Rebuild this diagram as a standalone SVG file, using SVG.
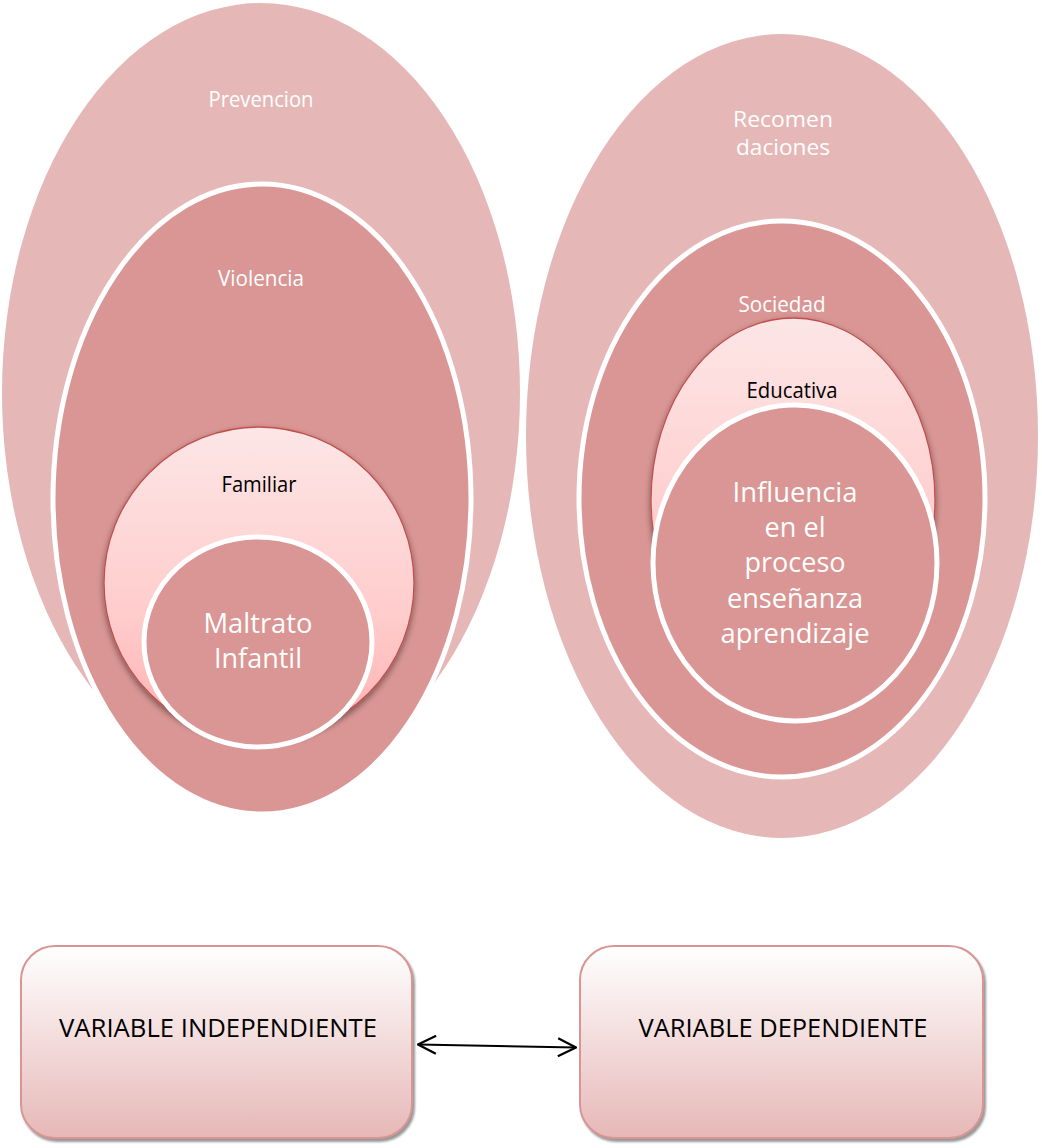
<svg xmlns="http://www.w3.org/2000/svg" width="1042" height="1148" viewBox="0 0 1042 1148">
<style>
.outer{fill:#e5b8b7}
.mid{fill:#d99694;stroke:#fff;stroke-width:5}
.inner{fill:url(#pinkGrad);stroke:#c0504d;stroke-width:1.3;filter:url(#shadow)}
.core{fill:#d99694;stroke:#fff;stroke-width:5}
.lbl{font-family:"Open Sans","Liberation Sans",sans-serif;fill:#fff;text-anchor:middle}
.dark{fill:#000}
.box{fill:url(#boxGrad);stroke:#d99594;stroke-width:2;filter:url(#boxShadow)}
.btxt{font-family:"Open Sans","Liberation Sans",sans-serif;font-size:25px;fill:#000;text-anchor:middle}
</style>
<defs>
<linearGradient id="pinkGrad" x1="0" y1="0" x2="0" y2="1">
<stop offset="0" stop-color="#fde6e6"/>
<stop offset="0.6" stop-color="#ffcccc"/>
<stop offset="1" stop-color="#ffb0b0"/>
</linearGradient>
<linearGradient id="boxGrad" x1="0" y1="0" x2="0" y2="1">
<stop offset="0" stop-color="#ffffff"/>
<stop offset="1" stop-color="#e6b8b7"/>
</linearGradient>
<filter id="shadow" x="-10%" y="-10%" width="120%" height="125%">
<feDropShadow dx="0" dy="3" stdDeviation="3" flood-color="#000" flood-opacity="0.45"/>
</filter>
<filter id="boxShadow" x="-5%" y="-5%" width="112%" height="115%">
<feDropShadow dx="2" dy="3" stdDeviation="1" flood-color="#7f7f7f" flood-opacity="0.8"/>
</filter>
<marker id="open" viewBox="0 0 20 20" refX="19" refY="10" markerWidth="20" markerHeight="20" markerUnits="userSpaceOnUse" orient="auto-start-reverse">
<path d="M1,1 L19,10 L1,19" fill="none" stroke="#000" stroke-width="2.2"/>
</marker>
</defs>

<g id="prevencion">
<ellipse class="outer" cx="261" cy="393" rx="259" ry="390"/>
<text class="lbl" x="261" y="107" font-size="22" textLength="105" lengthAdjust="spacingAndGlyphs">Prevencion</text>
</g>
<g id="violencia">
<ellipse class="mid" cx="262" cy="499" rx="209" ry="315"/>
<text class="lbl" x="261" y="286" font-size="22" textLength="86" lengthAdjust="spacingAndGlyphs">Violencia</text>
</g>
<g id="familiar">
<ellipse class="inner" cx="259" cy="583" rx="155" ry="156"/>
<text class="lbl dark" x="259" y="492" font-size="21" textLength="75" lengthAdjust="spacingAndGlyphs">Familiar</text>
</g>
<g id="maltrato">
<ellipse class="core" cx="258" cy="642" rx="114" ry="105"/>
<text class="lbl" x="258" y="633" font-size="27" textLength="109" lengthAdjust="spacingAndGlyphs">Maltrato</text>
<text class="lbl" x="258" y="668" font-size="27" textLength="88" lengthAdjust="spacingAndGlyphs">Infantil</text>
</g>

<g id="recomendaciones">
<ellipse class="outer" cx="782" cy="436" rx="256" ry="402"/>
<text class="lbl" x="783" y="127" font-size="22" textLength="100" lengthAdjust="spacingAndGlyphs">Recomen</text>
<text class="lbl" x="783" y="155" font-size="22" textLength="94" lengthAdjust="spacingAndGlyphs">daciones</text>
</g>
<g id="sociedad">
<ellipse class="mid" cx="782" cy="499" rx="203" ry="278"/>
<text class="lbl" x="782" y="312" font-size="21" textLength="87" lengthAdjust="spacingAndGlyphs">Sociedad</text>
</g>
<g id="educativa">
<ellipse class="inner" cx="793" cy="500" rx="142" ry="182"/>
<text class="lbl dark" x="792" y="398" font-size="21" textLength="91" lengthAdjust="spacingAndGlyphs">Educativa</text>
</g>
<g id="influencia">
<ellipse class="core" cx="795" cy="563" rx="142" ry="158"/>
<text class="lbl" x="795" y="502" font-size="27" textLength="125" lengthAdjust="spacingAndGlyphs">Influencia</text>
<text class="lbl" x="795" y="537" font-size="27" textLength="61" lengthAdjust="spacingAndGlyphs">en el</text>
<text class="lbl" x="795" y="572" font-size="27" textLength="101" lengthAdjust="spacingAndGlyphs">proceso</text>
<text class="lbl" x="795" y="608" font-size="27" textLength="136" lengthAdjust="spacingAndGlyphs">enseñanza</text>
<text class="lbl" x="795" y="643" font-size="27" textLength="149" lengthAdjust="spacingAndGlyphs">aprendizaje</text>
</g>

<g id="var-independiente">
<rect class="box" x="21" y="946" width="391" height="192" rx="34" ry="34"/>
<text class="btxt" x="218" y="1037" textLength="318" lengthAdjust="spacingAndGlyphs">VARIABLE INDEPENDIENTE</text>
</g>
<g id="var-dependiente">
<rect class="box" x="580" y="946" width="403" height="192" rx="34" ry="34"/>
<text class="btxt" x="783" y="1037" textLength="289" lengthAdjust="spacingAndGlyphs">VARIABLE DEPENDIENTE</text>
</g>

<g id="connectors">
<line x1="418" y1="1044.5" x2="576" y2="1047.5" stroke="#000" stroke-width="2" marker-start="url(#open)" marker-end="url(#open)"/>
</g>
</svg>
